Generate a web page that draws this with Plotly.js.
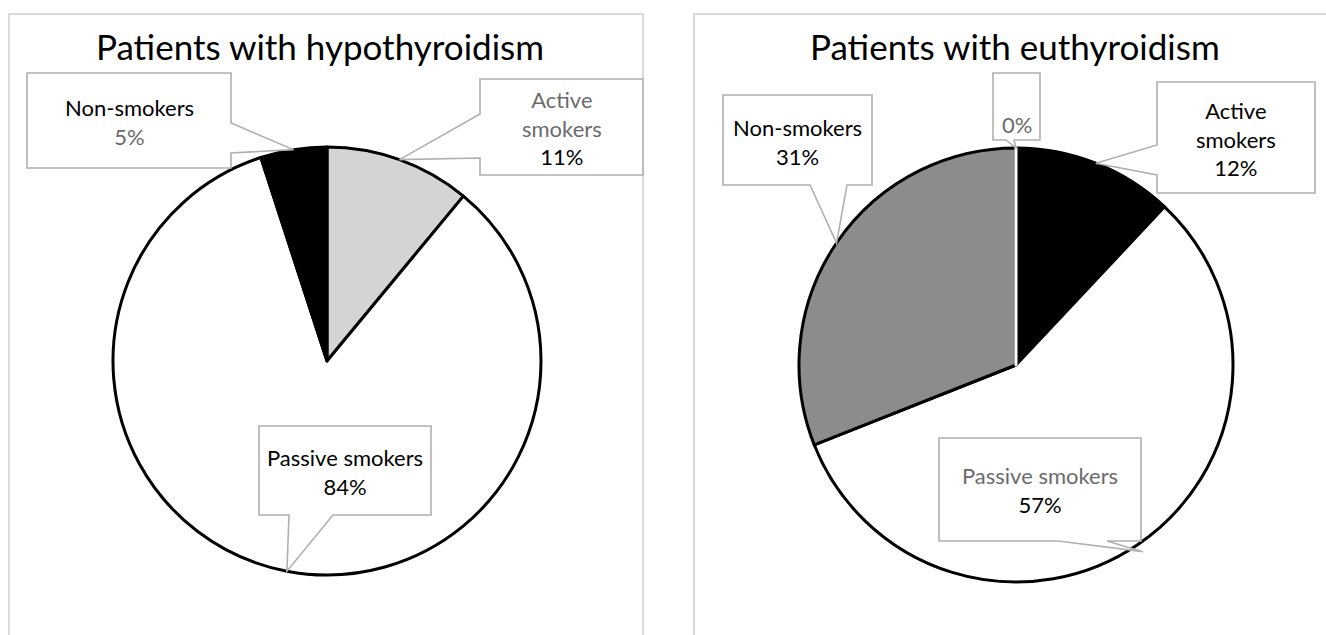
<!DOCTYPE html>
<html>
<head>
<meta charset="utf-8">
<script src="https://cdn.plot.ly/plotly-3.0.1.min.js"></script>
<style>
  html, body { margin: 0; padding: 0; background: #ffffff; }
  #chart { width: 1326px; height: 635px; }
</style>
</head>
<body>
<div id="chart"></div>
<script>
// ---------- data ----------
const chartTitles = ['Patients with hypothyroidism', 'Patients with euthyroidism'];
const categories = ['Active smokers', 'Passive smokers', 'Non-smokers'];
const hypoValues = [11, 84, 5];
const euthyroCategories = ['Active smokers', 'Passive smokers', 'Non-smokers', ''];
const euthyroValues = [12, 57, 31, 0];

// ---------- layout helpers (pixel -> paper) ----------
const W = 1326, H = 635;
const px = x => x / W;
const py = y => 1 - y / H;

const FONT = 'Lato, "Open Sans", sans-serif';
const GREY_TXT = '#6b6b6b';
const CALLOUT_LINE = '#b0b0b0';

// pie placement (pixels)
const pies = [
  { cx: 327, cy: 361, r: 214 },
  { cx: 1016, cy: 365, r: 217 }
];

function domainFor(p) {
  return { x: [px(p.cx - p.r), px(p.cx + p.r)], y: [py(p.cy + p.r), py(p.cy - p.r)] };
}

// tip of a callout: edge point at the middle angle of slice i (clockwise from 12 o'clock)
function tipFor(p, values, i, k) {
  const total = values.reduce((a, b) => a + b, 0);
  let before = 0;
  for (let j = 0; j < i; j++) before += values[j];
  const frac = (before + values[i] / 2) / total;
  const a = frac * 2 * Math.PI;
  const rr = p.r * (k || 1);
  return [p.cx + rr * Math.sin(a), p.cy - rr * Math.cos(a)];
}

function calloutPath(b, side, a1, a2, tip) {
  const [x0, y0, x1, y1] = b;
  let pts;
  if (side === 'right') pts = [[x0, y0], [x1, y0], [x1, a1], tip, [x1, a2], [x1, y1], [x0, y1]];
  else if (side === 'left') pts = [[x0, y0], [x1, y0], [x1, y1], [x0, y1], [x0, a2], tip, [x0, a1]];
  else pts = [[x0, y0], [x1, y0], [x1, y1], [a2, y1], tip, [a1, y1], [x0, y1]];
  return 'M' + pts.map(q => px(q[0]).toFixed(5) + ',' + py(q[1]).toFixed(5)).join('L') + 'Z';
}

// callout boxes: [x0,y0,x1,y1], wedge side, wedge base, text centre y, colours of name / value lines
const callouts = [
  { pie: 0, idx: 2, box: [27, 73, 231, 168], side: 'right', a: [123, 153], ty: 122, nameCol: '#000', valCol: GREY_TXT },
  { pie: 0, idx: 0, box: [480, 79, 643, 175], side: 'left', a: [114, 158], ty: 128, nameCol: GREY_TXT, valCol: '#000', wrap: true },
  { pie: 0, idx: 1, box: [259, 426, 431, 515], side: 'bottom', a: [289, 333], ty: 472, nameCol: '#000', valCol: '#000' },
  { pie: 1, idx: 2, box: [723, 95, 872, 185], side: 'bottom', a: [810, 847], ty: 142, nameCol: '#000', valCol: '#000' },
  { pie: 1, idx: 3, box: [993, 73, 1040, 140], side: 'bottom', a: [1006, 1014], ty: 124, nameCol: GREY_TXT, valCol: GREY_TXT },
  { pie: 1, idx: 0, box: [1157, 82, 1315, 193], side: 'left', a: [145, 175], ty: 139, nameCol: '#000', valCol: '#000', wrap: true },
  { pie: 1, idx: 1, box: [939, 438, 1141, 541], side: 'bottom', a: [1058, 1107], ty: 490, nameCol: GREY_TXT, valCol: '#000', tipK: 1.04 }
];

const pieData = [
  { cats: categories, vals: hypoValues, colors: ['#d4d4d4', '#ffffff', '#000000'], lines: ['#000', '#000', '#000'] },
  { cats: euthyroCategories, vals: euthyroValues, colors: ['#000000', '#ffffff', '#8c8c8c', '#ffffff'], lines: ['#000', '#000', '#000', '#fff'] }
];

const traces = pieData.map((d, i) => ({
  type: 'pie',
  labels: d.cats.map((c, k) => c || ('slice' + k)),
  values: d.vals,
  sort: false,
  direction: 'clockwise',
  rotation: 0,
  textinfo: 'none',
  hoverinfo: 'label+percent',
  showlegend: false,
  domain: domainFor(pies[i]),
  marker: { colors: d.colors, line: { color: d.lines, width: 3 } }
}));

const shapes = [
  // panel frames
  { type: 'rect', xref: 'paper', yref: 'paper', x0: px(9), x1: px(643), y0: py(645), y1: py(14),
    line: { color: '#d9d9d9', width: 2 }, fillcolor: 'rgba(0,0,0,0)', layer: 'below' },
  { type: 'rect', xref: 'paper', yref: 'paper', x0: px(694), x1: px(1340), y0: py(645), y1: py(14),
    line: { color: '#d9d9d9', width: 2 }, fillcolor: 'rgba(0,0,0,0)', layer: 'below' }
];

// white separator at the 0 % slice of the second pie
(function () {
  const p = pies[1];
  const t = tipFor(p, euthyroValues, 3);
  shapes.push({ type: 'line', xref: 'paper', yref: 'paper', x0: px(p.cx), y0: py(p.cy), x1: px(t[0]), y1: py(t[1]),
    line: { color: '#ffffff', width: 2 }, layer: 'above' });
})();

const annotations = [];
chartTitles.forEach((t, i) => {
  annotations.push({ xref: 'paper', yref: 'paper', x: px(i === 0 ? 320 : 1015), y: py(46), text: t, showarrow: false,
    xanchor: 'center', yanchor: 'middle', font: { family: FONT, size: 35, color: '#000' } });
});

callouts.forEach(c => {
  const d = pieData[c.pie];
  const tip = tipFor(pies[c.pie], d.vals, c.idx, c.tipK);
  shapes.push({ type: 'path', xref: 'paper', yref: 'paper', path: calloutPath(c.box, c.side, c.a[0], c.a[1], tip),
    fillcolor: '#ffffff', line: { color: CALLOUT_LINE, width: 1.6 }, layer: 'above' });
  const name = d.cats[c.idx];
  const total = d.vals.reduce((a, b) => a + b, 0);
  const pct = Math.round(d.vals[c.idx] / total * 100) + '%';
  let lines = [];
  if (name) {
    const nm = c.wrap ? name.replace(' ', '<br>') : name;
    lines.push('<span style="color:' + c.nameCol + '">' + nm + '</span>');
  }
  lines.push('<span style="color:' + c.valCol + '">' + pct + '</span>');
  annotations.push({ xref: 'paper', yref: 'paper', x: px((c.box[0] + c.box[2]) / 2), y: py(c.ty),
    text: lines.join('<br>'), showarrow: false, xanchor: 'center', yanchor: 'middle', align: 'center',
    font: { family: FONT, size: 22, color: '#000' } });
});

const layout = {
  width: W, height: H,
  margin: { l: 0, r: 0, t: 0, b: 0 },
  paper_bgcolor: '#ffffff',
  plot_bgcolor: '#ffffff',
  showlegend: false,
  shapes: shapes,
  annotations: annotations
};

Plotly.newPlot('chart', traces, layout, { displayModeBar: false, staticPlot: true });
</script>
</body>
</html>
